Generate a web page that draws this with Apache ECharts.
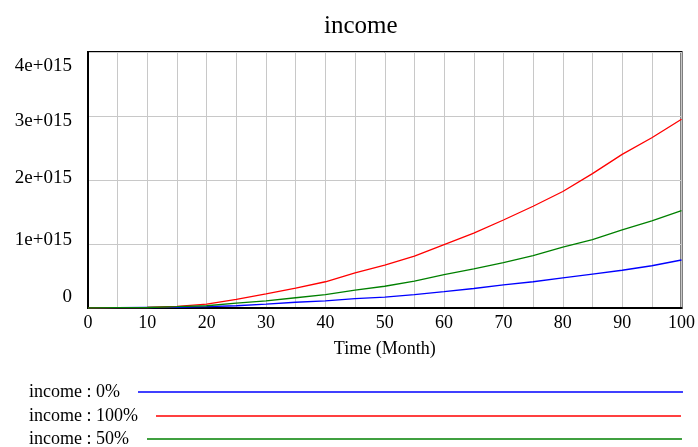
<!DOCTYPE html>
<html>
<head>
<meta charset="utf-8">
<script src="https://cdn.jsdelivr.net/npm/echarts@6/dist/echarts.min.js"></script>
<style>html,body{margin:0;padding:0;background:#fff}#c{width:698px;height:447px}</style>
</head>
<body>
<div id="c"></div>
<script>
var months = [0,5,10,15,20,25,30,35,40,45,50,55,60,65,70,75,80,85,90,95,100];
var income0 = [0,0.005e15,0.008e15,0.012e15,0.02e15,0.035e15,0.06e15,0.09e15,0.11e15,0.145e15,0.17e15,0.21e15,0.255e15,0.305e15,0.36e15,0.41e15,0.47e15,0.53e15,0.59e15,0.66e15,0.75e15];
var income100 = [0,0.005e15,0.008e15,0.025e15,0.06e15,0.135e15,0.22e15,0.31e15,0.41e15,0.55e15,0.67e15,0.81e15,0.99e15,1.17e15,1.375e15,1.59e15,1.82e15,2.1e15,2.4e15,2.66e15,2.95e15];
var income50 = [0,0.005e15,0.008e15,0.02e15,0.035e15,0.075e15,0.11e15,0.16e15,0.21e15,0.28e15,0.34e15,0.42e15,0.52e15,0.61e15,0.71e15,0.82e15,0.95e15,1.07e15,1.22e15,1.36e15,1.52e15];
var yTickLabels = ['0','1e+015','2e+015','3e+015','4e+015'];
var seriesNames = ['income : 0%','income : 100%','income : 50%'];
var seriesColors = ['#0000ff','#ff0000','#008000'];

var FONT = "'Liberation Serif','Times New Roman',serif";
function pairs(vals){ return months.map(function(m,i){ return [m, vals[i]]; }); }
var allVals = [income0, income100, income50];

var chart = echarts.init(document.getElementById('c'), null, {renderer:'canvas'});
var legendTops = [383, 407, 430];
var legendWidths = [545, 525, 535];
var legends = seriesNames.map(function(n,i){
  return {
    data:[n], left:29, top:legendTops[i], orient:'horizontal', align:'right', padding:0,
    itemWidth:legendWidths[i], itemHeight:1.5, icon:'rect',
    selectedMode:false,
    textStyle:{fontFamily:FONT, fontSize:18, color:'#000', padding:[0,13,0,0]}
  };
});
var option = {
  animation:false,
  backgroundColor:'#fff',
  title:{text:'income', left:319, top:9, textStyle:{fontFamily:FONT, fontSize:25, fontWeight:'normal', color:'#000'}},
  legend: legends,
  grid:{left:88, right:15, top:52, bottom:139, show:true, borderColor:'#000', borderWidth:2, containLabel:false},
  xAxis:{
    type:'value', min:0, max:100, interval:10,
    name:'Time (Month)', nameLocation:'middle', nameGap:32,
    nameTextStyle:{fontFamily:FONT, fontSize:18, color:'#000'},
    axisLine:{show:true, lineStyle:{color:'#000', width:2}},
    axisTick:{show:false},
    minorTick:{show:false, splitNumber:2},
    splitLine:{show:true, lineStyle:{color:'#c8c8c8', width:1}},
    minorSplitLine:{show:true, lineStyle:{color:'#c8c8c8', width:1}},
    axisLabel:{fontFamily:FONT, fontSize:18, color:'#000', margin:6}
  },
  yAxis:{
    type:'value', min:0, max:4e15, interval:1e15,
    axisLine:{show:true, lineStyle:{color:'#000', width:2}},
    axisTick:{show:false},
    splitLine:{show:true, lineStyle:{color:'#c8c8c8', width:1}},
    axisLabel:{
      margin:16, color:'#000', fontFamily:FONT, fontSize:19,
      formatter:function(v){ var i=Math.round(v/1e15); return '{r'+i+'|'+yTickLabels[i]+'}'; },
      rich:{
        r0:{fontFamily:FONT, fontSize:19, color:'#000', padding:[0,0,22,0]},
        r1:{fontFamily:FONT, fontSize:19, color:'#000', padding:[0,0,8,0]},
        r2:{fontFamily:FONT, fontSize:19, color:'#000', padding:[0,0,4,0]},
        r3:{fontFamily:FONT, fontSize:19, color:'#000', padding:[10,0,0,0]},
        r4:{fontFamily:FONT, fontSize:19, color:'#000', padding:[28,0,0,0]}
      }
    }
  },
  series: seriesNames.map(function(n,i){
    return {name:n, type:'line', data:pairs(allVals[i]), showSymbol:false, symbol:'none',
      lineStyle:{color:seriesColors[i], width:1.3}, itemStyle:{color:seriesColors[i]}};
  })
};
chart.setOption(option);
</script>
</body>
</html>
